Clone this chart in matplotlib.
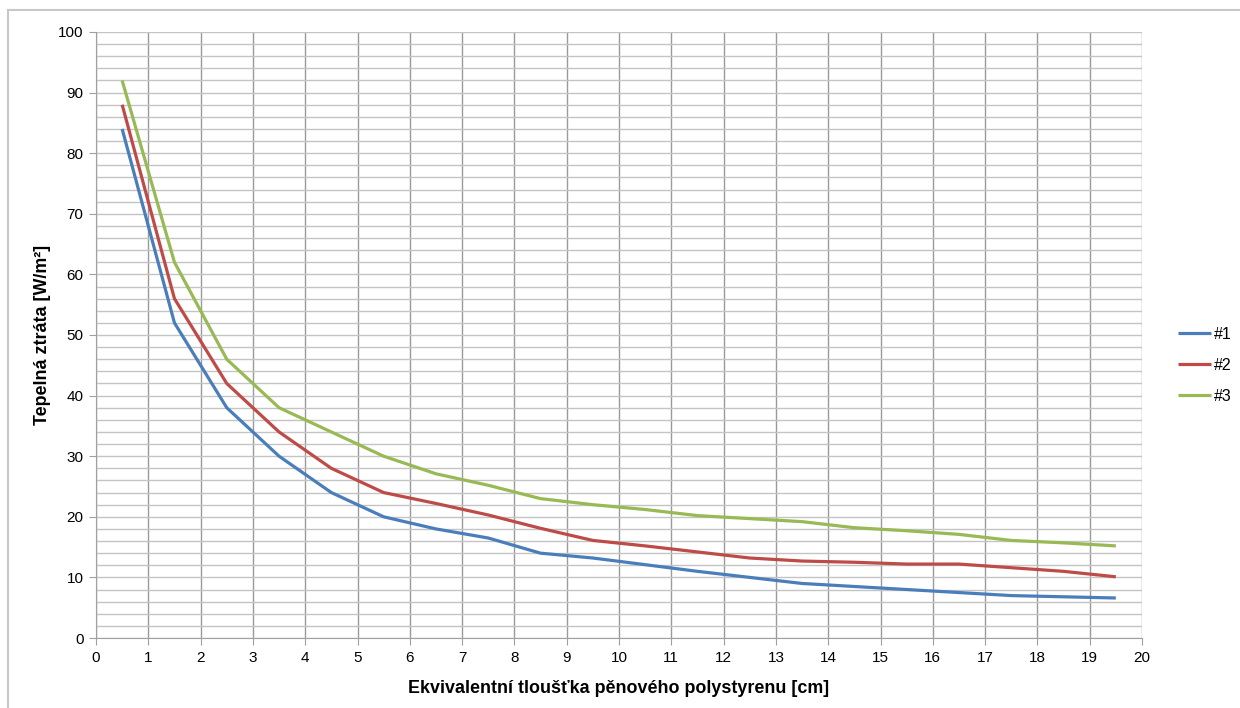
import matplotlib
matplotlib.use("Agg")
import matplotlib.pyplot as plt
from matplotlib.patches import Rectangle
from matplotlib.ticker import MultipleLocator

plt.rcParams['font.family'] = ['Liberation Sans', 'DejaVu Sans']

thickness = [0.5, 1.5, 2.5, 3.5, 4.5, 5.5, 6.5, 7.5, 8.5, 9.5,
             10.5, 11.5, 12.5, 13.5, 14.5, 15.5, 16.5, 17.5, 18.5, 19.5]
s1 = [84, 52, 38, 30, 24, 20, 18, 16.5, 14, 13.2,
      12.1, 11.0, 10.0, 9.0, 8.5, 8.0, 7.5, 7.0, 6.8, 6.6]
s2 = [88, 56, 42, 34, 28, 24, 22.2, 20.3, 18.1, 16.1,
      15.2, 14.2, 13.2, 12.7, 12.5, 12.2, 12.2, 11.6, 11.0, 10.1]
s3 = [92, 62, 46, 38, 34, 30, 27.1, 25.2, 23.0, 22.0,
      21.2, 20.2, 19.7, 19.2, 18.2, 17.7, 17.1, 16.1, 15.7, 15.2]
labels = ['#1', '#2', '#3']
colors = ['#4A7EBB', '#BE4B48', '#98B954']

W, H = 1240, 708
fig = plt.figure(figsize=(W / 100, H / 100), dpi=100)
fig.patches.append(Rectangle((8 / W, -0.1), 1.2, 1 - 10 / H + 0.1,
                             transform=fig.transFigure, fill=False,
                             edgecolor='#c8c8c8', linewidth=1.5))
ax = fig.add_axes([96 / W, 1 - 638 / H, (1142 - 96) / W, (638 - 32) / H])

for ys, lab, c in zip([s1, s2, s3], labels, colors):
    ax.plot(thickness, ys, color=c, lw=2.3, label=lab, solid_capstyle='butt')

ax.set_xlim(0, 20)
ax.set_ylim(0, 100)
ax.xaxis.set_major_locator(MultipleLocator(1))
ax.yaxis.set_major_locator(MultipleLocator(10))
ax.yaxis.set_minor_locator(MultipleLocator(2))
ax.grid(True, axis='x', which='major', color='#9a9a9a', lw=1.0)
ax.grid(True, axis='y', which='both', color='#c4c4c4', lw=1.0)
ax.set_axisbelow(True)
for sp in ['top', 'right']:
    ax.spines[sp].set_visible(False)
for sp in ['left', 'bottom']:
    ax.spines[sp].set_color('#a0a0a0')
ax.tick_params(axis='both', which='major', length=5, color='#a0a0a0',
               labelsize=11, pad=4)
ax.tick_params(axis='y', which='minor', length=0)
ax.set_xlabel('Ekvivalentní tloušťka pěnového polystyrenu [cm]',
              fontsize=12.9, fontweight='bold', labelpad=11)
ax.set_ylabel('Tepelná ztráta [W/m²]', fontsize=12.9, fontweight='bold',
              labelpad=5)

ax.legend(loc='center left', bbox_to_anchor=(1.034, 0.45), frameon=False,
          fontsize=11.5, handlelength=2.1, handletextpad=0.15,
          labelspacing=1.0, borderpad=0, borderaxespad=0)

fig.savefig('out.png', dpi=100)
